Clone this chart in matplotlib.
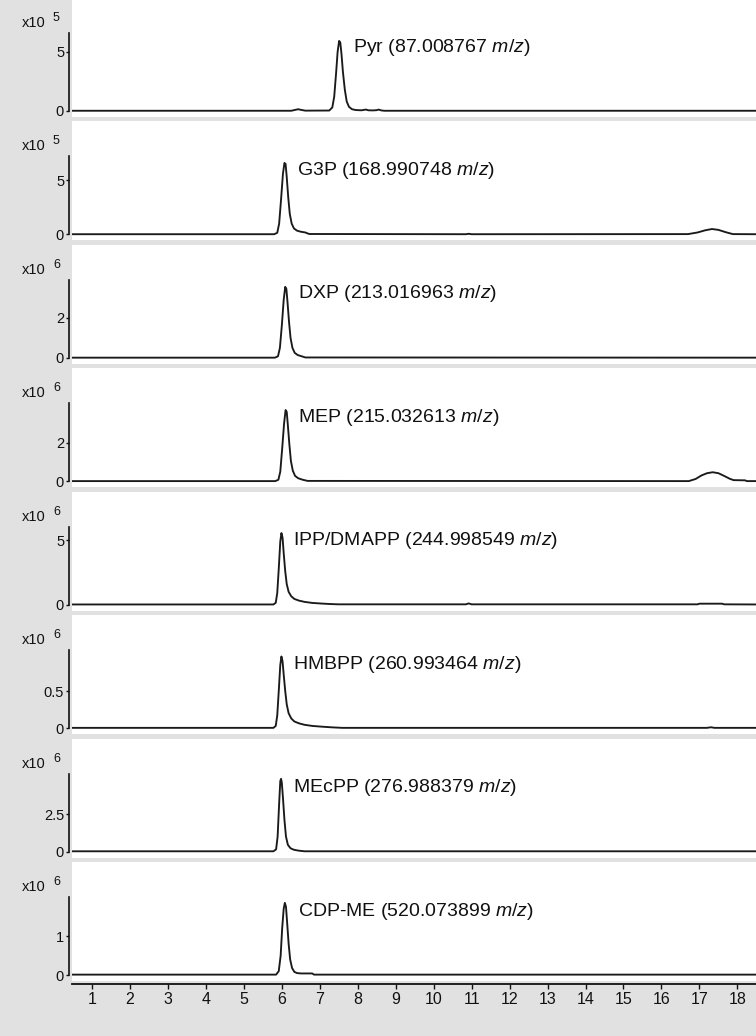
import matplotlib
matplotlib.use("Agg")
import matplotlib.pyplot as plt
import matplotlib.transforms as mtransforms

plt.rcParams['font.family'] = ['Liberation Sans', 'DejaVu Sans']
plt.rcParams['mathtext.fontset'] = 'custom'
plt.rcParams['mathtext.rm'] = 'Liberation Sans'
plt.rcParams['mathtext.it'] = 'Liberation Sans:italic'

# ---------------- data ----------------
compounds = ["Pyr", "G3P", "DXP", "MEP", "IPP/DMAPP", "HMBPP", "MEcPP", "CDP-ME"]
mz_values = ["87.008767", "168.990748", "213.016963", "215.032613",
             "244.998549", "260.993464", "276.988379", "520.073899"]
exponents = [5, 5, 6, 6, 6, 6, 6, 6]
y_ticks = [[0, 5], [0, 5], [0, 2], [0, 2], [0, 5], [0, 0.5], [0, 2.5], [0, 1]]
y_tick_labels = [["0", "5"], ["0", "5"], ["0", "2"], ["0", "2"], ["0", "5"],
                 ["0", "0.5"], ["0", "2.5"], ["0", "1"]]
y_axis_max = [6.6, 7.2, 3.9, 4.05, 6.05, 1.05, 5.2, 2.0]
x_ticks = list(range(1, 19))

pyr_t = [0.47, 6.25, 6.36, 6.43, 6.50, 6.62, 7.25, 7.33, 7.38, 7.43, 7.47, 7.51, 7.54, 7.57, 7.61,
         7.66, 7.71, 7.77, 7.85, 7.95, 8.10, 8.17, 8.22, 8.28, 8.40, 8.50, 8.55, 8.62, 8.70, 18.5]
pyr_i = [0.02, 0.02, 0.10, 0.15, 0.10, 0.03, 0.04, 0.30, 1.20, 3.20, 5.00, 5.93, 5.80, 4.90, 3.30,
         1.80, 0.80, 0.35, 0.15, 0.08, 0.06, 0.10, 0.12, 0.06, 0.05, 0.07, 0.12, 0.05, 0.02, 0.02]

g3p_t = [0.47, 5.80, 5.88, 5.93, 5.98, 6.03, 6.07, 6.10, 6.13, 6.17, 6.21, 6.26, 6.32, 6.40, 6.50,
         6.62, 6.72, 10.85, 10.92, 11.0, 16.70, 16.95, 17.15, 17.33, 17.50, 17.70, 17.88, 18.5]
g3p_i = [0.02, 0.02, 0.15, 1.0, 3.2, 5.6, 6.6, 6.5, 5.3, 3.4, 1.9, 1.0, 0.55, 0.35, 0.25,
         0.18, 0.04, 0.02, 0.06, 0.02, 0.03, 0.18, 0.38, 0.50, 0.42, 0.20, 0.03, 0.02]

dxp_t = [0.47, 5.82, 5.90, 5.95, 6.00, 6.05, 6.09, 6.12, 6.15, 6.19, 6.23, 6.28, 6.34, 6.42,
         6.52, 6.62, 18.5]
dxp_i = [0.01, 0.01, 0.08, 0.5, 1.6, 2.9, 3.55, 3.45, 2.8, 1.8, 1.0, 0.5, 0.25, 0.14,
         0.08, 0.02, 0.01]

mep_t = [0.47, 5.83, 5.91, 5.96, 6.01, 6.06, 6.10, 6.13, 6.16, 6.20, 6.24, 6.29, 6.35, 6.43,
         6.55, 6.68, 16.72, 16.90, 17.05, 17.20, 17.35, 17.50, 17.65, 17.80, 17.90, 18.20,
         18.25, 18.5]
mep_i = [0.01, 0.01, 0.08, 0.5, 1.7, 3.0, 3.7, 3.6, 2.9, 1.9, 1.05, 0.55, 0.28, 0.16,
         0.08, 0.02, 0.01, 0.12, 0.30, 0.42, 0.47, 0.42, 0.28, 0.13, 0.06, 0.05,
         0.01, 0.01]

ipp_t = [0.47, 5.78, 5.84, 5.88, 5.92, 5.96, 5.99, 6.02, 6.05, 6.09, 6.13, 6.18, 6.25, 6.33,
         6.45, 6.60, 6.80, 7.05, 7.30, 7.50, 10.85, 10.92, 11.0, 16.95, 17.0, 17.6, 17.65, 18.5]
ipp_i = [0.02, 0.02, 0.15, 0.9, 2.8, 4.9, 5.56, 5.2, 4.0, 2.6, 1.6, 1.0, 0.65, 0.45,
         0.32, 0.22, 0.14, 0.09, 0.05, 0.03, 0.03, 0.10, 0.03, 0.03, 0.08, 0.08, 0.03, 0.02]

hmbpp_t = [0.47, 5.78, 5.84, 5.88, 5.92, 5.96, 5.99, 6.02, 6.05, 6.09, 6.13, 6.18, 6.25, 6.33,
           6.45, 6.60, 6.80, 7.05, 7.35, 7.60, 17.2, 17.3, 17.4, 18.5]
hmbpp_i = [0.004, 0.004, 0.03, 0.17, 0.5, 0.85, 0.965, 0.9, 0.72, 0.5, 0.32, 0.2, 0.13, 0.09,
           0.065, 0.045, 0.03, 0.02, 0.01, 0.004, 0.004, 0.012, 0.004, 0.004]

mecpp_t = [0.47, 5.78, 5.85, 5.89, 5.93, 5.96, 5.98, 6.00, 6.03, 6.07, 6.11, 6.16, 6.23, 6.32,
           6.45, 6.60, 18.5]
mecpp_i = [0.02, 0.02, 0.15, 1.0, 3.2, 4.7, 4.85, 4.6, 3.6, 2.1, 1.0, 0.45, 0.22, 0.12,
           0.06, 0.02, 0.02]

cdpme_t = [0.47, 5.85, 5.92, 5.97, 6.01, 6.05, 6.08, 6.11, 6.14, 6.18, 6.22, 6.27, 6.33, 6.40,
           6.50, 6.80, 6.85, 18.5]
cdpme_i = [0.01, 0.01, 0.1, 0.5, 1.2, 1.7, 1.85, 1.75, 1.35, 0.8, 0.4, 0.18, 0.08, 0.05,
           0.04, 0.04, 0.01, 0.01]

traces_t = [pyr_t, g3p_t, dxp_t, mep_t, ipp_t, hmbpp_t, mecpp_t, cdpme_t]
traces_i = [pyr_i, g3p_i, dxp_i, mep_i, ipp_i, hmbpp_i, mecpp_i, cdpme_i]

# label anchor (x in minutes)
label_x = [7.88, 6.40, 6.43, 6.43, 6.30, 6.30, 6.30, 6.43]

# ---------------- layout ----------------
W, H = 756, 1036
GRAY = '#e1e1e1'
LINE = '#1a1a1a'
TXT = '#111111'
XMIN, XMAX = 0.474, 18.49

fig = plt.figure(figsize=(W / 100, H / 100), dpi=100, facecolor=GRAY)

for k in range(8):
    base = 111 + 123.43 * k
    top = base - 113
    bottom = base + 6
    ax = fig.add_axes([72 / W, 1 - bottom / H, (W - 72) / W, (bottom - top) / H])
    ax.set_facecolor('white')
    R = y_axis_max[k]
    ax.set_ylim(-6 * R / 78, 113 * R / 78)
    ax.set_xlim(XMIN, XMAX)
    for s in ['top', 'right', 'bottom']:
        ax.spines[s].set_visible(False)
    ax.spines['left'].set_position(('outward', 2.2))
    ax.spines['left'].set_bounds(0, R)
    ax.spines['left'].set_linewidth(1.2)
    ax.spines['left'].set_color(TXT)
    ax.set_xticks([])
    ax.set_yticks(y_ticks[k])
    ax.set_yticklabels(y_tick_labels[k])
    ax.tick_params(axis='y', direction='out', length=2.5, width=1.0, labelsize=10.5,
                   pad=1, colors=TXT)
    ax.plot(traces_t[k], traces_i[k], color=LINE, lw=1.35, solid_joinstyle='round')
    trans = mtransforms.blended_transform_factory(ax.transData, ax.transAxes)
    ax.text(label_x[k], (6 + 64) / 119, f"{compounds[k]} ({mz_values[k]} $\\mathit{{m/z}}$)",
            transform=trans, ha='left', va='center', fontsize=14, color=TXT)
    fig.text(46 / W, 1 - (base - 84) / H, "x10", ha='right', va='baseline', fontsize=10.5,
             color=TXT)
    fig.text(53 / W, 1 - (base - 90) / H, str(exponents[k]), ha='left', va='baseline',
             fontsize=9, color=TXT)

# bottom time axis
axb = fig.add_axes([72 / W, 1 - 984 / H, (W - 72) / W, 0.0001])
axb.set_facecolor('none')
for s in ['top', 'left', 'right']:
    axb.spines[s].set_visible(False)
axb.spines['bottom'].set_linewidth(1.3)
axb.spines['bottom'].set_color(TXT)
axb.set_xlim(XMIN, XMAX)
axb.set_yticks([])
axb.set_xticks(x_ticks)
axb.set_xticklabels([str(v) for v in x_ticks])
axb.tick_params(axis='x', direction='out', length=3.5, width=1.0, labelsize=11.5, pad=2,
                colors=TXT)

fig.savefig("out.png", dpi=100, facecolor=GRAY)
